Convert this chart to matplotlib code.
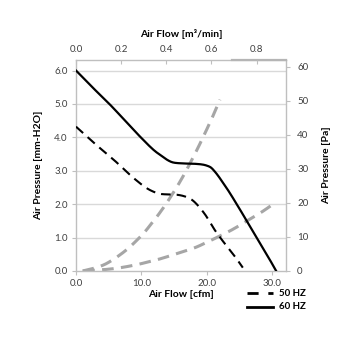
import matplotlib
matplotlib.use("Agg")
import matplotlib.pyplot as plt
import numpy as np
from matplotlib.ticker import FixedLocator

# ---- data ----
cfm_60 = [0.0, 2.5, 5.1, 7.5, 9.9, 12.0, 13.2, 14.0, 14.8, 16.3, 18.0, 19.2, 19.9,
          20.6, 21.2, 21.8, 22.5, 23.3, 25.0, 27.0, 29.0, 30.6]
p_60 = [6.0, 5.5, 5.0, 4.5, 4.0, 3.6, 3.43, 3.32, 3.25, 3.22, 3.21, 3.19, 3.16,
        3.10, 2.98, 2.83, 2.63, 2.4, 1.86, 1.2, 0.55, 0.0]

cfm_50 = [0.0, 3.0, 6.1, 8.7, 10.8, 12.0, 12.8, 14.2, 15.5, 16.5, 17.4, 18.2,
          19.7, 21.2, 22.7, 24.3, 25.5]
p_50 = [4.32, 3.79, 3.27, 2.80, 2.48, 2.36, 2.31, 2.29, 2.28, 2.24, 2.17, 2.05,
        1.70, 1.23, 0.83, 0.43, 0.10]

cfm_sys_hi = [1.0, 2.5, 4.2, 5.5, 6.7, 8.0, 9.3, 10.3, 11.3, 12.5, 13.8, 15.4, 16.5, 17.4, 18.5, 19.8, 21.0, 22.0]
p_sys_hi = [0.0, 0.07, 0.18, 0.32, 0.48, 0.68, 0.92, 1.12, 1.36, 1.66, 2.02, 2.51, 2.88, 3.21, 3.63, 4.16, 4.67, 5.13]

cfm_sys_lo = [1.1, 4.2, 6.5, 9.3, 11.0, 12.8, 15.4, 18.2, 20.0, 21.7, 24.0, 26.3, 28.5, 29.9]
p_sys_lo = [0.0, 0.04, 0.09, 0.19, 0.27, 0.36, 0.52, 0.70, 0.86, 1.02, 1.25, 1.52, 1.78, 1.97]

x_ticks = [0.0, 10.0, 20.0, 30.0]
x_top_ticks = [0.0, 0.2, 0.4, 0.6, 0.8]
y_left_ticks = [0.0, 1.0, 2.0, 3.0, 4.0, 5.0, 6.0]
y_right_ticks = [0, 10, 20, 30, 40, 50, 60]
legend_labels = ["50 HZ", "60 HZ"]

XMAX = 32.1
YMAX = 6.33
TOPMAX = 0.93
PA_PER_MM = 9.80665

FONT = ["Lato", "DejaVu Sans"]
plt.rcParams["font.family"] = FONT


def smooth(xs, ys, n=12):
    """Centripetal Catmull-Rom rendering of a curve through the read points
    (like a spreadsheet's 'smoothed line')."""
    P = np.column_stack([np.asarray(xs, float) / XMAX, np.asarray(ys, float) / YMAX])
    P = np.vstack([2 * P[0] - P[1], P, 2 * P[-1] - P[-2]])
    out = []
    for i in range(1, len(P) - 2):
        p0, p1, p2, p3 = P[i - 1], P[i], P[i + 1], P[i + 2]
        t0 = 0.0
        t1 = t0 + np.linalg.norm(p1 - p0) ** 0.5 + 1e-9
        t2 = t1 + np.linalg.norm(p2 - p1) ** 0.5 + 1e-9
        t3 = t2 + np.linalg.norm(p3 - p2) ** 0.5 + 1e-9
        t = np.linspace(t1, t2, n, endpoint=False)[:, None]
        A1 = (t1 - t) / (t1 - t0) * p0 + (t - t0) / (t1 - t0) * p1
        A2 = (t2 - t) / (t2 - t1) * p1 + (t - t1) / (t2 - t1) * p2
        A3 = (t3 - t) / (t3 - t2) * p2 + (t - t2) / (t3 - t2) * p3
        B1 = (t2 - t) / (t2 - t0) * A1 + (t - t0) / (t2 - t0) * A2
        B2 = (t3 - t) / (t3 - t1) * A2 + (t - t1) / (t3 - t1) * A3
        C = (t2 - t) / (t2 - t1) * B1 + (t - t1) / (t2 - t1) * B2
        out.append(C)
    out.append(P[-2][None, :])
    C = np.vstack(out)
    return C[:, 0] * XMAX, C[:, 1] * YMAX


fig = plt.figure(figsize=(3.55, 3.55), dpi=100)
ax = fig.add_axes([76 / 355, 1 - 271 / 355, 210 / 355, (271 - 59.5) / 355])

grid_c = "#d9d9d9"
spine_c = "#bfbfbf"
tick_c = "#404040"
gray = "#a6a6a6"

for yv in y_left_ticks[1:]:
    ax.axhline(yv, color=grid_c, lw=1.0, zorder=0)

ax.plot(*smooth(cfm_sys_hi, p_sys_hi), color=gray, lw=2.2, dashes=(3.8, 2.4), zorder=2)
ax.plot(*smooth(cfm_sys_lo, p_sys_lo), color=gray, lw=2.2, dashes=(3.8, 2.4), zorder=2)
ax.plot(*smooth(cfm_50, p_50), color="black", lw=1.5, dashes=(4.6, 2.9), zorder=3)
ax.plot(*smooth(cfm_60, p_60), color="black", lw=1.6, zorder=3)

ax.set_xlim(0, XMAX)
ax.set_ylim(0, YMAX)
ax.xaxis.set_major_locator(FixedLocator(x_ticks))
ax.yaxis.set_major_locator(FixedLocator(y_left_ticks))
ax.set_xticklabels([f"{v:.1f}" for v in x_ticks])
ax.set_yticklabels([f"{v:.1f}" for v in y_left_ticks])

for s in ax.spines.values():
    s.set_color(spine_c)
    s.set_linewidth(1.0)

ax.tick_params(axis="both", direction="out", length=3, width=0.8, color=spine_c,
               labelsize=7, labelcolor=tick_c, pad=3)

ax.set_xlabel("Air Flow [cfm]", fontsize=7.5, fontweight="bold", labelpad=1)
ax.set_ylabel("Air Pressure [mm-H2O]", fontsize=7.5, fontweight="bold", labelpad=8)

# top axis (m3/min)
axt = ax.twiny()
axt.set_xlim(0, TOPMAX)
axt.xaxis.set_major_locator(FixedLocator(x_top_ticks))
axt.set_xticklabels([f"{v:.1f}" for v in x_top_ticks])
axt.tick_params(axis="x", direction="in", length=3, width=0.8, color=spine_c,
                labelsize=7, labelcolor=tick_c, pad=4)
axt.set_xlabel("Air Flow [m³/min]", fontsize=7.5, fontweight="bold", labelpad=6)
for s in axt.spines.values():
    s.set_visible(False)

# right axis (Pa)
axr = ax.twinx()
axr.set_ylim(0, YMAX * PA_PER_MM)
axr.yaxis.set_major_locator(FixedLocator(y_right_ticks))
axr.set_yticklabels([str(v) for v in y_right_ticks])
axr.tick_params(axis="y", direction="out", length=3, width=0.8, color=spine_c,
                labelsize=7, labelcolor=tick_c, pad=5)
axr.set_ylabel("Air Pressure [Pa]", fontsize=7.5, fontweight="bold", labelpad=10)
for s in axr.spines.values():
    s.set_visible(False)

# darker segment on top frame
ax.plot([0.745, 1.0], [1.0, 1.0], transform=ax.transAxes, color="#b5b5b5",
        lw=1.6, clip_on=False, zorder=4)

# legend below the plot
fig.lines.append(plt.Line2D([247 / 355, 273 / 355], [1 - 293 / 355] * 2,
                            color="black", lw=2.0, dashes=(4, 3.5), transform=fig.transFigure))
fig.lines.append(plt.Line2D([247 / 355, 273 / 355], [1 - 306.5 / 355] * 2,
                            color="black", lw=2.0, transform=fig.transFigure))
fig.text(279 / 355, 1 - 293 / 355, legend_labels[0], fontsize=7, fontweight="bold",
         va="center", ha="left")
fig.text(279 / 355, 1 - 306.5 / 355, legend_labels[1], fontsize=7, fontweight="bold",
         va="center", ha="left")

fig.savefig("out.png", dpi=100, facecolor="white")
